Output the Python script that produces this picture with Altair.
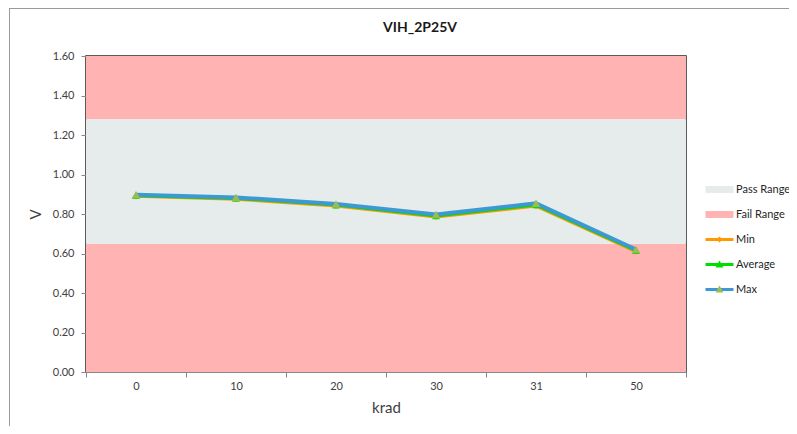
import altair as alt
import pandas as pd

# ---- data ----
krad = ["0", "10", "20", "30", "31", "50"]
v_min = [0.890, 0.875, 0.840, 0.785, 0.840, 0.610]
v_avg = [0.893, 0.879, 0.845, 0.790, 0.846, 0.614]
v_max = [0.897, 0.884, 0.851, 0.797, 0.854, 0.620]
series_names = ["Min", "Average", "Max"]
pass_low, pass_high = 0.65, 1.28
y_lo, y_hi = 0.0, 1.6
y_ticks = [0.0, 0.2, 0.4, 0.6, 0.8, 1.0, 1.2, 1.4, 1.6]

legend_names = ["Pass Range", "Fail Range", "Min", "Average", "Max"]
legend_colors = ["#E6EBEB", "#FFB3B3", "#FF9900", "#00DD00", "#3A9AD1"]
marker_color_max = "#9BBB59"

FONT = "Lato"

series_df = {
    "Min": pd.DataFrame({"krad": krad, "V": v_min}),
    "Average": pd.DataFrame({"krad": krad, "V": v_avg}),
    "Max": pd.DataFrame({"krad": krad, "V": v_max}),
}
fail_df = pd.DataFrame({"lo": [y_lo, pass_high], "hi": [pass_low, y_hi]})
pass_df = pd.DataFrame({"lo": [pass_low], "hi": [pass_high]})
leg_df = pd.DataFrame({"series": legend_names, "mk": legend_names})

yscale = alt.Scale(domain=[y_lo, y_hi], nice=False, zero=False)
xscale = alt.Scale(domain=krad, paddingInner=0, paddingOuter=0)
yaxis = alt.Axis(values=y_ticks, format=".2f", title="V", grid=False, labelOverlap=False,
                 domainColor="#868686", tickColor="#868686", tickSize=5,
                 labelPadding=7, titlePadding=9, labelFontSize=11,
                 labelColor="#404040", titleFontSize=15, titleFontWeight="normal",
                 titleColor="#404040", labelFont=FONT, titleFont=FONT)
xaxis = alt.Axis(title="krad", labelAngle=0, grid=False, tickBand="extent", labelOverlap=False,
                 domainColor="#868686", tickColor="#868686", tickSize=5,
                 labelPadding=3, titlePadding=9, labelFontSize=11,
                 labelColor="#404040", titleFontSize=15, titleFontWeight="normal",
                 titleColor="#404040", labelFont=FONT, titleFont=FONT)

fail = alt.Chart(fail_df).mark_rect(color=legend_colors[1]).encode(
    y=alt.Y("lo:Q", scale=yscale, axis=yaxis), y2="hi:Q")
passr = alt.Chart(pass_df).mark_rect(color=legend_colors[0]).encode(
    y=alt.Y("lo:Q", scale=yscale, axis=yaxis), y2="hi:Q")

widths = {"Min": 3, "Average": 3, "Max": 4}
layers = [fail, passr]
for i, name in enumerate(series_names):
    layers.append(
        alt.Chart(series_df[name]).mark_line(color=legend_colors[2 + i], strokeWidth=widths[name]).encode(
            x=alt.X("krad:N", sort=krad, axis=xaxis, scale=xscale),
            y=alt.Y("V:Q", scale=yscale, axis=yaxis)))
marker_specs = [("Min", "diamond", 40, legend_colors[2]),
                ("Average", "triangle-up", 60, legend_colors[3]),
                ("Max", "triangle-up", 75, marker_color_max)]
for name, shp, sz, col in marker_specs:
    layers.append(alt.Chart(series_df[name]).mark_point(filled=True, shape=shp, size=sz, opacity=1,
                                                        color=col).encode(
        x=alt.X("krad:N", sort=krad, axis=xaxis, scale=xscale),
        y=alt.Y("V:Q", scale=yscale, axis=yaxis)))

# legend symbol shapes (custom paths, scaled by sqrt(size)/2)
rect_p = "M-2.8,-0.7H2.8V0.7H-2.8Z"
line_p = "M-2.8,-0.3H2.8V0.3H-2.8Z"
blank_p = "M0,0L0.01,0Z"
diamond_p = "M-0.6,0L0,-0.6L0.6,0L0,0.6Z"
tri_p = "M-0.8,0.6L0,-0.8L0.8,0.6Z"

leg_common = dict(orient="none", legendX=628, legendY=128, title=None, padding=0,
                  symbolSize=100, symbolStrokeWidth=0, labelFontSize=11, labelFont=FONT,
                  labelColor="#262626", labelOffset=11, rowPadding=13, labelLimit=300)

legend1 = alt.Chart(leg_df).mark_point(filled=True, opacity=1).encode(
    color=alt.Color("series:N", scale=alt.Scale(domain=legend_names, range=legend_colors),
                    legend=alt.Legend(**leg_common)),
    shape=alt.Shape("series:N", scale=alt.Scale(domain=legend_names,
                                                range=[rect_p, rect_p, line_p, line_p, line_p]),
                    legend=alt.Legend(**leg_common)),
).transform_filter(alt.datum.series == "none")

legend2 = alt.Chart(leg_df).mark_point(filled=True, opacity=1).encode(
    fill=alt.Fill("mk:N", scale=alt.Scale(domain=legend_names,
                                          range=["transparent", "transparent", legend_colors[2],
                                                 legend_colors[3], marker_color_max]),
                  legend=alt.Legend(labelOpacity=0, **leg_common)),
    shape=alt.Shape("mk:N", scale=alt.Scale(domain=legend_names,
                                            range=[blank_p, blank_p, diamond_p, tri_p, tri_p]),
                    legend=alt.Legend(labelOpacity=0, **leg_common)),
).transform_filter(alt.datum.mk == "none")

# outer chart-area border (left and top edges)
border_left = alt.Chart(pd.DataFrame({"a": [0]})).mark_rule(color="#9a9a9a", strokeWidth=1, clip=False).encode(
    x=alt.value(-76.5), y=alt.value(-48), y2=alt.value(370))
border_top = alt.Chart(pd.DataFrame({"a": [0]})).mark_rule(color="#9a9a9a", strokeWidth=1, clip=False).encode(
    x=alt.value(-77), x2=alt.value(703), y=alt.value(-47.5))

layers += [legend1, legend2, border_left, border_top]

chart = alt.layer(*layers).resolve_scale(
    shape="independent", fill="independent", color="independent"
).resolve_legend(shape="independent", fill="independent", color="independent").properties(
    width=600, height=316,
    title=alt.TitleParams("VIH_2P25V", font=FONT, fontSize=14, fontWeight="bold", color="#1a1a1a",
                          offset=-27, dx=34, frame="group"),
    autosize=alt.AutoSizeParams(type="none"),
    padding={"left": 78, "top": 48, "right": 103, "bottom": 54},
    background="white",
).configure_view(stroke="#262626", strokeWidth=1.5)

chart.save("out.html", embed_options={"renderer": "svg", "actions": False})
